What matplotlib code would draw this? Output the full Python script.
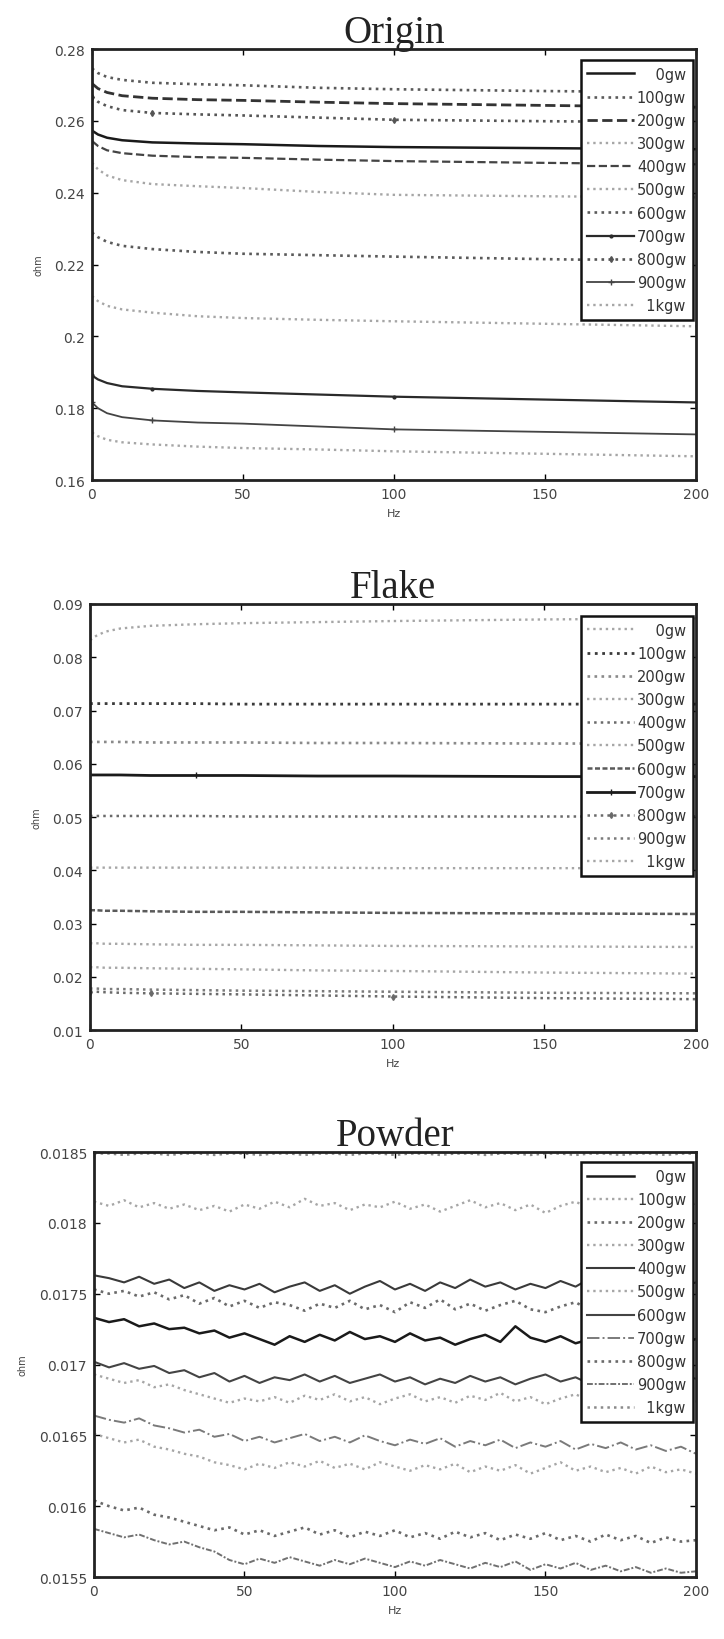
import numpy as np
import matplotlib
matplotlib.use("Agg")
import matplotlib.pyplot as plt

# ---------- dados ----------
labels = ["0gw", "100gw", "200gw", "300gw", "400gw", "500gw",
          "600gw", "700gw", "800gw", "900gw", "1kgw"]

# Origin: pontos em Hz
origin_hz = [0, 2, 5, 10, 20, 35, 50, 75, 100, 150, 200]
origin_0gw = [0.2573, 0.2562, 0.2553, 0.2546, 0.2540, 0.2537, 0.2535, 0.2530, 0.2527, 0.2524, 0.2521]
origin_100gw = [0.2746, 0.2733, 0.2722, 0.2714, 0.2706, 0.2702, 0.2699, 0.2692, 0.2688, 0.2683, 0.2679]
origin_200gw = [0.2704, 0.2690, 0.2679, 0.2670, 0.2663, 0.2659, 0.2657, 0.2652, 0.2648, 0.2643, 0.2638]
origin_300gw = [0.2483, 0.2465, 0.2448, 0.2435, 0.2424, 0.2418, 0.2413, 0.2402, 0.2394, 0.2390, 0.2387]
origin_400gw = [0.2544, 0.2530, 0.2518, 0.2510, 0.2503, 0.2499, 0.2497, 0.2492, 0.2488, 0.2483, 0.2479]
origin_500gw = [0.2112, 0.2098, 0.2085, 0.2075, 0.2066, 0.2056, 0.2051, 0.2046, 0.2042, 0.2035, 0.2028]
origin_600gw = [0.2289, 0.2276, 0.2263, 0.2252, 0.2243, 0.2235, 0.2230, 0.2226, 0.2222, 0.2215, 0.2209]
origin_700gw = [0.1891, 0.1880, 0.1870, 0.1861, 0.1854, 0.1848, 0.1844, 0.1838, 0.1832, 0.1824, 0.1816]
origin_800gw = [0.2667, 0.2653, 0.2641, 0.2630, 0.2622, 0.2618, 0.2615, 0.2609, 0.2603, 0.2599, 0.2596]
origin_900gw = [0.1816, 0.1800, 0.1786, 0.1775, 0.1766, 0.1760, 0.1757, 0.1749, 0.1741, 0.1734, 0.1727]
origin_1kgw = [0.1732, 0.1722, 0.1712, 0.1705, 0.1699, 0.1693, 0.1689, 0.1685, 0.1680, 0.1673, 0.1666]

# Flake
flake_hz = [0, 2, 5, 10, 20, 35, 50, 75, 100, 150, 200]
flake_0gw = [0.0832, 0.0840, 0.0848, 0.0854, 0.0859, 0.0862, 0.0864, 0.0866, 0.0868, 0.0871, 0.0873]
flake_100gw = [0.0713, 0.0713, 0.0713, 0.0713, 0.0713, 0.0713, 0.0712, 0.0712, 0.0712, 0.0712, 0.0712]
flake_200gw = [0.0641, 0.0641, 0.0641, 0.0641, 0.0640, 0.0640, 0.0640, 0.0639, 0.0639, 0.0638, 0.0638]
flake_300gw = [0.0405, 0.0405, 0.0405, 0.0405, 0.0405, 0.0405, 0.0405, 0.0405, 0.0404, 0.0404, 0.0404]
flake_400gw = [0.0502, 0.0502, 0.0502, 0.0502, 0.0502, 0.0502, 0.0501, 0.0501, 0.0501, 0.0501, 0.0501]
flake_500gw = [0.0263, 0.0263, 0.0262, 0.0262, 0.0261, 0.0260, 0.0260, 0.0259, 0.0258, 0.0257, 0.0256]
flake_600gw = [0.0325, 0.0325, 0.0324, 0.0324, 0.0323, 0.0322, 0.0322, 0.0321, 0.0320, 0.0319, 0.0318]
flake_700gw = [0.0579, 0.0579, 0.0579, 0.0579, 0.0578, 0.0578, 0.0578, 0.0577, 0.0577, 0.0576, 0.0576]
flake_800gw = [0.0172, 0.0172, 0.0171, 0.0170, 0.0169, 0.0168, 0.0167, 0.0165, 0.0163, 0.0160, 0.0158]
flake_900gw = [0.0178, 0.0178, 0.0177, 0.0177, 0.0176, 0.0175, 0.0174, 0.0173, 0.0172, 0.0170, 0.0169]
flake_1kgw = [0.0218, 0.0218, 0.0217, 0.0217, 0.0216, 0.0215, 0.0214, 0.0212, 0.0211, 0.0208, 0.0206]

# Powder (a cada 5 Hz)
powder_0gw = [0.01733, 0.01730, 0.01732, 0.01727, 0.01729, 0.01725, 0.01726, 0.01722, 0.01724, 0.01719, 0.01722,
              0.01718, 0.01714, 0.01720, 0.01716, 0.01721, 0.01717, 0.01723, 0.01718, 0.01720, 0.01716, 0.01722,
              0.01717, 0.01719, 0.01714, 0.01718, 0.01721, 0.01716, 0.01727, 0.01719, 0.01716, 0.01720, 0.01715,
              0.01718, 0.01709, 0.01717, 0.01721, 0.01716, 0.01719, 0.01715, 0.01718]
powder_100gw = [0.01815, 0.01812, 0.01816, 0.01811, 0.01814, 0.01810, 0.01813, 0.01809, 0.01812, 0.01808, 0.01813,
                0.01810, 0.01815, 0.01811, 0.01817, 0.01812, 0.01814, 0.01809, 0.01813, 0.01811, 0.01815, 0.01810,
                0.01813, 0.01808, 0.01812, 0.01816, 0.01811, 0.01814, 0.01809, 0.01813, 0.01807, 0.01812, 0.01815,
                0.01810, 0.01813, 0.01811, 0.01806, 0.01812, 0.01816, 0.01810, 0.01814]
powder_200gw = [0.01753, 0.01750, 0.01752, 0.01748, 0.01751, 0.01746, 0.01749, 0.01743, 0.01747, 0.01741, 0.01745,
                0.01740, 0.01744, 0.01742, 0.01738, 0.01743, 0.01740, 0.01745, 0.01739, 0.01742, 0.01737, 0.01744,
                0.01740, 0.01746, 0.01739, 0.01743, 0.01738, 0.01742, 0.01745, 0.01739, 0.01737, 0.01741, 0.01744,
                0.01738, 0.01743, 0.01739, 0.01742, 0.01737, 0.01745, 0.01740, 0.01743]
powder_300gw = [0.01693, 0.01690, 0.01687, 0.01689, 0.01684, 0.01686, 0.01682, 0.01679, 0.01676, 0.01673, 0.01676,
                0.01674, 0.01677, 0.01673, 0.01678, 0.01675, 0.01679, 0.01674, 0.01677, 0.01672, 0.01676, 0.01679,
                0.01674, 0.01677, 0.01673, 0.01678, 0.01675, 0.01680, 0.01674, 0.01677, 0.01672, 0.01676, 0.01679,
                0.01674, 0.01677, 0.01673, 0.01676, 0.01671, 0.01675, 0.01673, 0.01674]
powder_400gw = [0.01763, 0.01761, 0.01758, 0.01762, 0.01757, 0.01760, 0.01754, 0.01758, 0.01752, 0.01756, 0.01753,
                0.01757, 0.01751, 0.01755, 0.01758, 0.01752, 0.01756, 0.01750, 0.01755, 0.01759, 0.01753, 0.01757,
                0.01752, 0.01758, 0.01754, 0.01760, 0.01755, 0.01758, 0.01753, 0.01757, 0.01754, 0.01759, 0.01755,
                0.01761, 0.01756, 0.01753, 0.01758, 0.01754, 0.01757, 0.01755, 0.01758]
powder_500gw = [0.01651, 0.01648, 0.01645, 0.01647, 0.01642, 0.01640, 0.01637, 0.01635, 0.01631, 0.01629, 0.01626,
                0.01630, 0.01627, 0.01631, 0.01628, 0.01632, 0.01627, 0.01630, 0.01626, 0.01631, 0.01628, 0.01625,
                0.01629, 0.01626, 0.01630, 0.01624, 0.01628, 0.01625, 0.01629, 0.01623, 0.01627, 0.01631, 0.01625,
                0.01628, 0.01624, 0.01627, 0.01623, 0.01628, 0.01624, 0.01626, 0.01623]
powder_600gw = [0.01702, 0.01698, 0.01701, 0.01697, 0.01699, 0.01694, 0.01696, 0.01691, 0.01694, 0.01688, 0.01692,
                0.01687, 0.01691, 0.01689, 0.01693, 0.01688, 0.01692, 0.01687, 0.01690, 0.01693, 0.01688, 0.01691,
                0.01686, 0.01690, 0.01687, 0.01692, 0.01688, 0.01691, 0.01686, 0.01690, 0.01693, 0.01688, 0.01691,
                0.01686, 0.01689, 0.01692, 0.01687, 0.01691, 0.01688, 0.01692, 0.01690]
powder_700gw = [0.01664, 0.01661, 0.01659, 0.01662, 0.01657, 0.01655, 0.01652, 0.01654, 0.01649, 0.01651, 0.01646,
                0.01649, 0.01645, 0.01648, 0.01651, 0.01646, 0.01649, 0.01645, 0.01650, 0.01646, 0.01643, 0.01647,
                0.01644, 0.01648, 0.01642, 0.01646, 0.01643, 0.01647, 0.01641, 0.01645, 0.01642, 0.01646, 0.01640,
                0.01644, 0.01641, 0.01645, 0.01640, 0.01643, 0.01639, 0.01642, 0.01637]
powder_800gw = [0.01604, 0.01600, 0.01597, 0.01599, 0.01594, 0.01592, 0.01589, 0.01586, 0.01583, 0.01585, 0.01580,
                0.01583, 0.01579, 0.01582, 0.01585, 0.01580, 0.01583, 0.01578, 0.01582, 0.01579, 0.01583, 0.01578,
                0.01581, 0.01577, 0.01582, 0.01578, 0.01581, 0.01576, 0.01580, 0.01577, 0.01581, 0.01576, 0.01579,
                0.01575, 0.01580, 0.01576, 0.01579, 0.01574, 0.01578, 0.01575, 0.01576]
powder_900gw = [0.01584, 0.01581, 0.01578, 0.01580, 0.01576, 0.01573, 0.01575, 0.01571, 0.01568, 0.01562, 0.01559,
                0.01563, 0.01560, 0.01564, 0.01561, 0.01558, 0.01562, 0.01559, 0.01563, 0.01560, 0.01557, 0.01561,
                0.01558, 0.01562, 0.01559, 0.01556, 0.01560, 0.01557, 0.01561, 0.01555, 0.01559, 0.01556, 0.01560,
                0.01555, 0.01558, 0.01554, 0.01557, 0.01553, 0.01556, 0.01553, 0.01554]
powder_1kgw = [0.01849, 0.01849, 0.01848, 0.01849, 0.01849, 0.01848, 0.01849, 0.01849, 0.01848, 0.01849, 0.01849,
               0.01848, 0.01849, 0.01849, 0.01848, 0.01849, 0.01849, 0.01848, 0.01849, 0.01849, 0.01848, 0.01849,
               0.01849, 0.01848, 0.01849, 0.01849, 0.01848, 0.01849, 0.01849, 0.01848, 0.01849, 0.01849, 0.01848,
               0.01849, 0.01849, 0.01848, 0.01849, 0.01849, 0.01848, 0.01849, 0.01849]

# ---------- estilos (cinza, imitando a digitalizacao) ----------
ESCURO = dict(color="#1a1a1a", ls="-", lw=1.8)
CLARO = dict(color="#a6a6a6", ls=":", lw=1.7)
MEDIO = dict(color="#5a5a5a", ls=":", lw=1.9)

estilos_origin = [
    ESCURO,
    MEDIO,
    dict(color="#333333", ls="--", lw=2.0),
    CLARO,
    dict(color="#444444", ls="--", lw=1.6),
    CLARO,
    MEDIO,
    dict(color="#2a2a2a", ls="-", lw=1.6, marker=".", markevery=4, ms=4),
    dict(color="#555555", ls=":", lw=1.9, marker="d", markevery=4, ms=3),
    dict(color="#444444", ls="-", lw=1.3, marker="+", markevery=4, ms=4),
    CLARO,
]
estilos_flake = [
    CLARO,
    dict(color="#3a3a3a", ls=":", lw=2.0),
    dict(color="#8a8a8a", ls=":", lw=1.9),
    CLARO,
    dict(color="#6a6a6a", ls=":", lw=1.8),
    CLARO,
    dict(color="#5a5a5a", ls=(0, (2, 1)), lw=1.8),
    dict(color="#1a1a1a", ls="-", lw=2.0, marker="|", markevery=5, ms=4),
    dict(color="#6a6a6a", ls=":", lw=1.8, marker="d", markevery=4, ms=3),
    dict(color="#7a7a7a", ls=":", lw=1.8),
    CLARO,
]
estilos_powder = [
    ESCURO,
    CLARO,
    dict(color="#6a6a6a", ls=":", lw=1.9),
    CLARO,
    dict(color="#3a3a3a", ls="-", lw=1.5),
    CLARO,
    dict(color="#444444", ls="-", lw=1.5),
    dict(color="#7a7a7a", ls="-.", lw=1.4),
    dict(color="#6a6a6a", ls=":", lw=1.9),
    dict(color="#707070", ls=(0, (3, 1, 1, 1)), lw=1.4),
    dict(color="#8a8a8a", ls=":", lw=1.8),
]

plt.rcParams["font.family"] = ["DejaVu Sans"]

fig = plt.figure(figsize=(7.24, 16.4), dpi=100)


def painel(rect, titulo, x, series, estilos, ylim, yticks, yticklabels, leg_anchor):
    ax = fig.add_axes(rect)
    for serie, lab, st in zip(series, labels, estilos):
        xs = x if x is not None else np.linspace(0, 200, len(serie))
        ax.plot(xs, serie, label=lab, **st)
    ax.set_xlim(0, 200)
    ax.set_ylim(*ylim)
    ax.set_xticks([0, 50, 100, 150, 200])
    ax.set_yticks(yticks)
    ax.set_yticklabels(yticklabels)
    ax.tick_params(direction="in", top=True, right=True, length=4, width=1,
                   labelsize=10, labelcolor="#444444", pad=5)
    for s in ax.spines.values():
        s.set_linewidth(2.0)
        s.set_color("#222222")
    ax.set_title(titulo, family="Liberation Serif", fontsize=28, pad=5, color="#222222")
    ax.set_xlabel("Hz", fontsize=8, color="#444444", labelpad=5)
    ax.set_ylabel("ohm", fontsize=7, color="#444444", labelpad=8)
    # rotulos alinhados a direita, como no original
    handles, labs = ax.get_legend_handles_labels()
    labs = [l.rjust(5, "\u2007") for l in labs]
    leg = ax.legend(handles, labs, loc="upper right", bbox_to_anchor=leg_anchor, borderaxespad=0,
                    fancybox=False, framealpha=1, edgecolor="#111111", fontsize=10.5,
                    labelspacing=0.56, handlelength=3.2, handletextpad=0.2,
                    borderpad=0.45)
    leg.get_frame().set_linewidth(1.8)
    for t in leg.get_texts():
        t.set_color("#333333")
    return ax


painel([0.127, 0.7067, 0.834, 0.2628], "Origin", origin_hz,
       [origin_0gw, origin_100gw, origin_200gw, origin_300gw, origin_400gw, origin_500gw,
        origin_600gw, origin_700gw, origin_800gw, origin_900gw, origin_1kgw],
       estilos_origin,
       (0.16, 0.28), [0.16, 0.18, 0.20, 0.22, 0.24, 0.26, 0.28],
       ["0.16", "0.18", "0.2", "0.22", "0.24", "0.26", "0.28"],
       (1 - 3 / 604, 1 - 11 / 431))

painel([0.1243, 0.3713, 0.837, 0.2598], "Flake", flake_hz,
       [flake_0gw, flake_100gw, flake_200gw, flake_300gw, flake_400gw, flake_500gw,
        flake_600gw, flake_700gw, flake_800gw, flake_900gw, flake_1kgw],
       estilos_flake,
       (0.01, 0.09), [0.01, 0.02, 0.03, 0.04, 0.05, 0.06, 0.07, 0.08, 0.09],
       ["0.01", "0.02", "0.03", "0.04", "0.05", "0.06", "0.07", "0.08", "0.09"],
       (1 - 3 / 606, 1 - 12 / 426))

painel([0.1298, 0.0378, 0.8315, 0.2591], "Powder", None,
       [powder_0gw, powder_100gw, powder_200gw, powder_300gw, powder_400gw, powder_500gw,
        powder_600gw, powder_700gw, powder_800gw, powder_900gw, powder_1kgw],
       estilos_powder,
       (0.0155, 0.0185), [0.0155, 0.016, 0.0165, 0.017, 0.0175, 0.018, 0.0185],
       ["0.0155", "0.016", "0.0165", "0.017", "0.0175", "0.018", "0.0185"],
       (1 - 3 / 602, 1 - 10 / 425))

fig.savefig("out.png", dpi=100)
